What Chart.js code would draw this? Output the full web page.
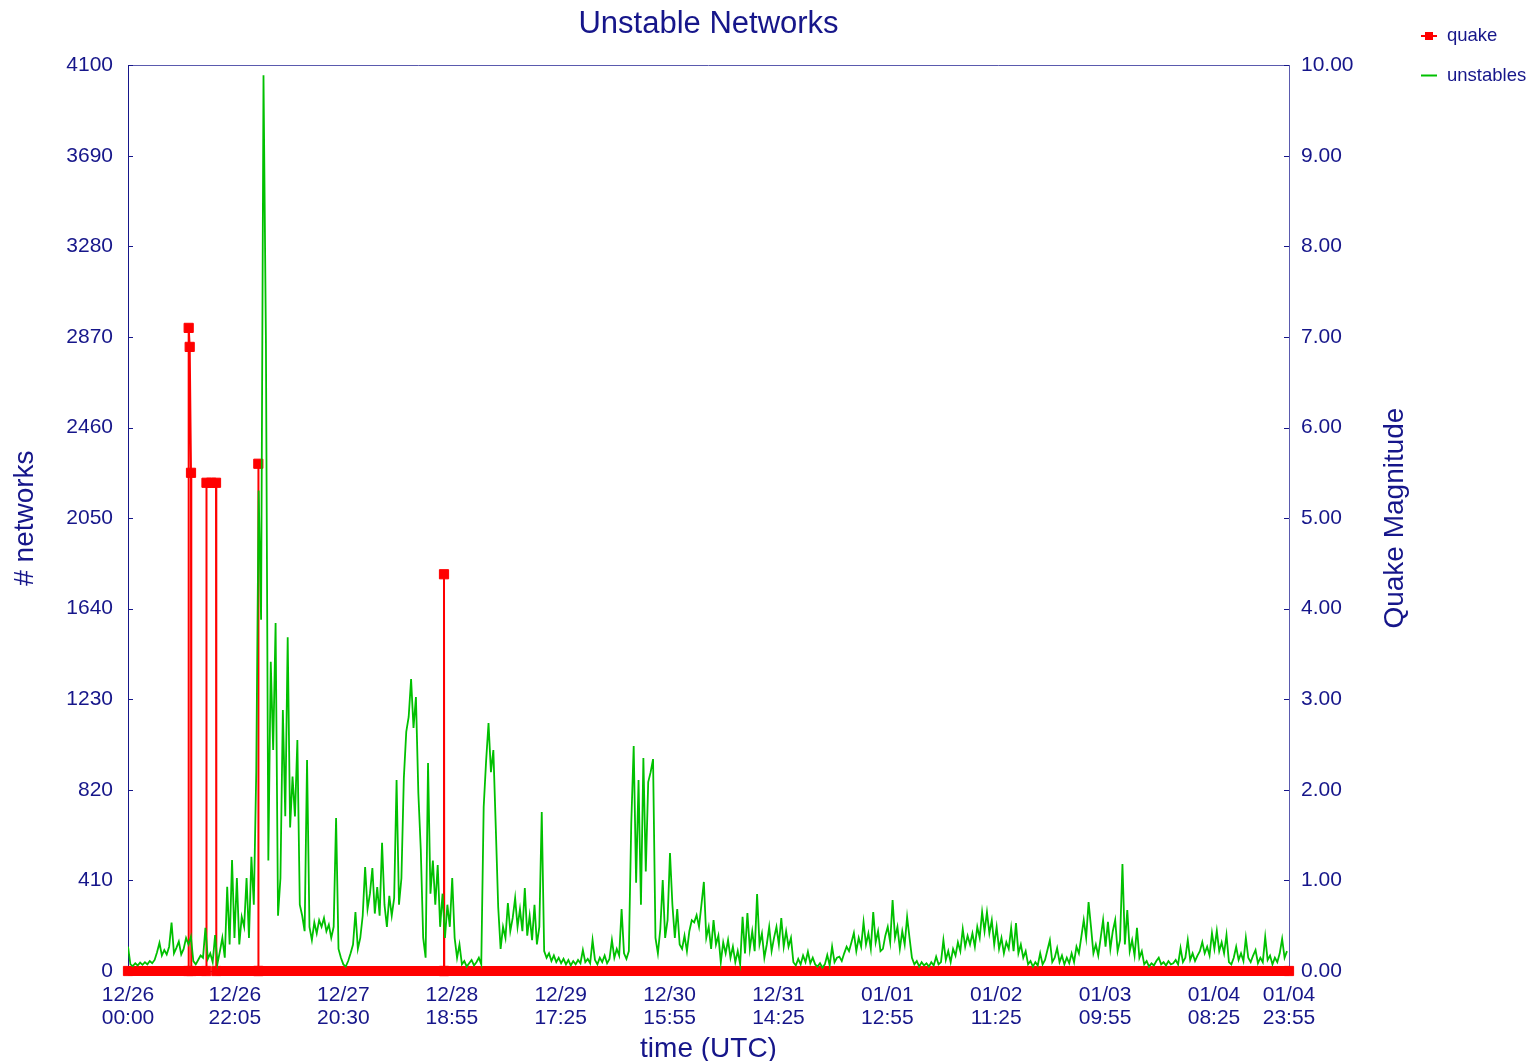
<!DOCTYPE html>
<html>
<head>
<meta charset="utf-8">
<title>Unstable Networks</title>
<script src="https://cdn.jsdelivr.net/npm/chart.js@4.4.1/dist/chart.umd.min.js"></script>
<style>
    html, body { margin: 0; padding: 0; background: #ffffff; }
    canvas { display: block; }
</style>
</head>
<body>
<canvas id="canvas" width="1536" height="1061"></canvas>
<script>
// time axis labels, hours are counted from 12/26 00:00 UTC
const xTickLabels = [
    ["12/26", "00:00"], ["12/26", "22:05"], ["12/27", "20:30"], ["12/28", "18:55"],
    ["12/29", "17:25"], ["12/30", "15:55"], ["12/31", "14:25"], ["01/01", "12:55"],
    ["01/02", "11:25"], ["01/03", "09:55"], ["01/04", "08:25"], ["01/04", "23:55"]
]
const xMaxHours = 239.9167

// # unstable networks, one reading every half hour (24 readings per row = 12 h)
const sampleStepHours = 0.5
const unstableCounts = [
    110, 30, 22, 35, 25, 38, 28, 40, 30, 45, 35, 50, 85, 127, 70, 95, 75, 110, 219, 80, 105, 133, 75, 100,
    150, 120, 155, 45, 30, 50, 70, 60, 195, 55, 80, 40, 163, 35, 90, 150, 60, 381, 120, 502, 150, 421, 120, 245,
    200, 421, 150, 517, 300, 896, 2175, 1590, 4055, 2855, 500, 1400, 1000, 1575, 250, 420, 1181, 700, 1511, 650, 880, 700, 1045, 300,
    250, 180, 955, 200, 140, 220, 170, 230, 200, 240, 180, 210, 150, 200, 692, 100, 60, 30, 20, 45, 80, 120, 267, 100,
    150, 250, 470, 280, 350, 466, 260, 380, 250, 580, 300, 200, 340, 250, 330, 864, 300, 420, 873, 1082, 1150, 1321, 1100, 1240,
    805, 550, 150, 60, 941, 350, 500, 300, 480, 200, 350, 150, 300, 200, 421, 150, 60, 120, 30, 45, 20, 35, 50, 25,
    40, 60, 30, 742, 950, 1122, 900, 1000, 650, 290, 100, 200, 150, 308, 180, 240, 330, 200, 280, 180, 375, 160, 250, 140,
    300, 120, 200, 720, 90, 60, 80, 45, 70, 40, 60, 35, 55, 30, 50, 25, 45, 30, 50, 35, 95, 40, 55, 35,
    140, 50, 30, 60, 40, 70, 35, 55, 140, 60, 100, 70, 280, 80, 55, 90, 670, 1018, 400, 864, 300, 964, 450, 855,
    900, 959, 150, 80, 190, 412, 150, 230, 534, 300, 150, 280, 120, 100, 160, 90, 180, 230, 220, 253, 200, 300, 403, 150,
    200, 100, 230, 120, 160, 40, 130, 80, 140, 60, 110, 40, 90, 30, 245, 80, 262, 100, 180, 90, 348, 120, 170, 60,
    120, 200, 90, 150, 200, 120, 240, 110, 180, 110, 150, 40, 25, 55, 30, 70, 40, 87, 35, 60, 30, 20, 35, 15,
    30, 72, 25, 110, 40, 60, 65, 45, 80, 110, 90, 130, 172, 90, 150, 110, 222, 120, 170, 100, 267, 130, 180, 90,
    100, 160, 200, 130, 321, 150, 200, 100, 180, 120, 245, 150, 60, 30, 45, 20, 40, 25, 35, 20, 40, 25, 65, 30,
    40, 140, 50, 90, 40, 100, 70, 130, 90, 190, 110, 160, 120, 170, 110, 200, 150, 267, 180, 267, 170, 230, 120, 200,
    100, 150, 80, 130, 100, 195, 90, 217, 80, 120, 60, 90, 30, 45, 20, 40, 25, 81, 30, 50, 95, 140, 40, 60,
    104, 40, 70, 30, 60, 35, 80, 40, 110, 80, 155, 231, 150, 312, 200, 80, 120, 70, 150, 231, 110, 222, 100, 180,
    231, 90, 140, 484, 120, 276, 90, 140, 70, 195, 60, 90, 30, 45, 20, 35, 25, 45, 60, 30, 40, 25, 45, 30,
    35, 50, 30, 104, 40, 60, 140, 50, 80, 45, 70, 90, 131, 80, 110, 70, 172, 100, 182, 90, 130, 80, 163, 40,
    30, 60, 110, 50, 80, 45, 150, 60, 40, 70, 95, 35, 60, 40, 154, 50, 70, 30, 60, 40, 80, 145, 60, 90
]

// quake magnitude readings (hours from start, magnitude)
const quakeHours = [0, 12.45, 12.54, 12.75, 13.02, 13.08, 16.15, 16.22, 17.2, 18.19, 18.25,
    26.88, 26.93, 26.98, 65.25, 65.30, 65.35, 239.9167]
const quakeMags = [0, 0, 7.10, 6.89, 5.50, 0, 0, 5.39, 5.39, 5.39, 0,
    0, 5.60, 0, 0, 4.38, 0, 0]

const leftTicksStep = 410
const leftMax = 4100
const rightTicksStep = 1
const rightMax = 10

const navy = '#16168a'
const fontFamily = '"Liberation Sans", Arial, Helvetica, sans-serif'

// hours since 12/26 00:00 for every time label
var labelToHours = (label) => {
    const [mon, day] = label[0].split("/").map(Number)
    const [hh, mm] = label[1].split(":").map(Number)
    const year = mon === 12 ? 2000 : 2001
    const t = Date.UTC(year, mon - 1, day, hh, mm)
    return (t - Date.UTC(2000, 11, 26, 0, 0)) / 3600000
}
const xTickHours = xTickLabels.map(labelToHours)

var unstablesPoints = unstableCounts.map((v, i) => ({ x: i * sampleStepHours, y: v }))
var quakePoints = quakeHours.map((h, i) => ({ x: h, y: quakeMags[i] }))

Chart.defaults.font.family = fontFamily
Chart.defaults.color = navy

const framePlugin = {
    id: 'frame',
    beforeDatasetsDraw: (chart) => {
        const { ctx, chartArea } = chart
        const yl = chart.scales.y
        const yr = chart.scales.y1
        ctx.save()
        ctx.lineWidth = 1
        ctx.strokeStyle = '#5a5aae'
        ctx.beginPath()
        ctx.moveTo(chartArea.left, Math.round(chartArea.top) + 0.5)
        ctx.lineTo(chartArea.right, Math.round(chartArea.top) + 0.5)
        ctx.stroke()

        // short inward ticks on both value axes
        ctx.strokeStyle = navy
        ctx.beginPath()
        yl.ticks.forEach(t => {
            const py = Math.round(yl.getPixelForValue(t.value)) + 0.5
            ctx.moveTo(chartArea.left, py)
            ctx.lineTo(chartArea.left + 5, py)
        })
        yr.ticks.forEach(t => {
            const py = Math.round(yr.getPixelForValue(t.value)) + 0.5
            ctx.moveTo(chartArea.right, py)
            ctx.lineTo(chartArea.right - 5, py)
        })
        ctx.stroke()
        ctx.restore()
    },
    afterDraw: (chart) => {
        const { ctx, chartArea } = chart
        const yr = chart.scales.y1
        ctx.save()

        // right axis title, reads bottom to top
        ctx.fillStyle = navy
        ctx.font = '28px ' + fontFamily
        ctx.textAlign = 'center'
        ctx.textBaseline = 'middle'
        ctx.translate(yr.left + 106, (chartArea.top + chartArea.bottom) / 2)
        ctx.rotate(-Math.PI / 2)
        ctx.fillText('Quake Magnitude', 0, 0)
        ctx.restore()

        // legend
        ctx.save()
        ctx.font = '18.5px ' + fontFamily
        ctx.textBaseline = 'middle'
        ctx.textAlign = 'left'
        chart.data.datasets.forEach((ds, i) => {
            const ly = 36 + i * 39.5
            ctx.strokeStyle = ds.borderColor
            ctx.lineWidth = 2
            ctx.beginPath()
            ctx.moveTo(1421, ly)
            ctx.lineTo(1437, ly)
            ctx.stroke()
            if (ds.pointStyle === 'rect') {
                ctx.fillStyle = ds.pointBackgroundColor
                ctx.fillRect(1425, ly - 4, 8, 8)
            }
            ctx.fillStyle = navy
            ctx.fillText(ds.label, 1447, ly)
        })
        ctx.restore()
    }
}

var chart = new Chart(document.getElementById("canvas"), {
    type: 'line',
    data: {
        datasets: [
            {
                label: 'quake',
                data: quakePoints,
                yAxisID: 'y1',
                borderColor: '#ff0000',
                backgroundColor: '#ff0000',
                pointBackgroundColor: '#ff0000',
                pointBorderColor: '#ff0000',
                borderWidth: 2,
                pointStyle: 'rect',
                pointRadius: 6.5,
                pointBorderWidth: 1,
                fill: false,
                clip: false,
                order: 2,
                segment: {
                    borderWidth: (c) => (c.p0.parsed.y === 0 && c.p1.parsed.y === 0) ? 10 : 2
                }
            },
            {
                label: 'unstables',
                data: unstablesPoints,
                yAxisID: 'y',
                borderColor: '#00c000',
                backgroundColor: '#00c000',
                borderWidth: 1.8,
                pointRadius: 0,
                fill: false,
                order: 1
            }
        ]
    },
    options: {
        responsive: false,
        animation: false,
        events: [],
        layout: { padding: 0 },
        plugins: {
            legend: { display: false },
            tooltip: { enabled: false },
            title: {
                display: true,
                text: 'Unstable Networks',
                color: navy,
                fullSize: false,
                font: { size: 31, weight: 'normal', lineHeight: 1.2 },
                padding: { top: 6, bottom: 22 }
            }
        },
        scales: {
            x: {
                type: 'linear',
                min: 0,
                max: xMaxHours,
                afterBuildTicks: (scale) => {
                    scale.ticks = xTickHours.map(v => ({ value: v }))
                },
                afterFit: (scale) => { scale.height = 90 },
                ticks: {
                    autoSkip: false,
                    maxRotation: 0,
                    padding: 13,
                    color: navy,
                    font: { size: 21, lineHeight: 1.1 },
                    callback: (v, i) => xTickLabels[i]
                },
                grid: { display: false, drawTicks: false },
                border: { display: true, color: navy, width: 1 },
                title: {
                    display: true,
                    text: 'time (UTC)',
                    color: navy,
                    font: { size: 28, lineHeight: 0.86 },
                    padding: { top: 0, bottom: 0 }
                }
            },
            y: {
                position: 'left',
                min: 0,
                max: leftMax,
                afterFit: (scale) => { scale.width = 128 },
                ticks: {
                    stepSize: leftTicksStep,
                    padding: 15,
                    color: navy,
                    font: { size: 21 },
                    callback: (v) => String(v)
                },
                grid: { display: false, drawTicks: false },
                border: { display: true, color: navy, width: 1 },
                title: {
                    display: true,
                    text: '# networks',
                    color: navy,
                    font: { size: 28 },
                    padding: { top: 8, bottom: 0 }
                }
            },
            y1: {
                position: 'right',
                min: 0,
                max: rightMax,
                afterFit: (scale) => { scale.width = 247 },
                ticks: {
                    stepSize: rightTicksStep,
                    padding: 12,
                    color: navy,
                    font: { size: 21 },
                    callback: (v) => v.toFixed(2)
                },
                grid: { display: false, drawTicks: false },
                border: { display: true, color: '#5a5aae', width: 1 }
            }
        }
    },
    plugins: [framePlugin]
});
</script>
</body>
</html>
